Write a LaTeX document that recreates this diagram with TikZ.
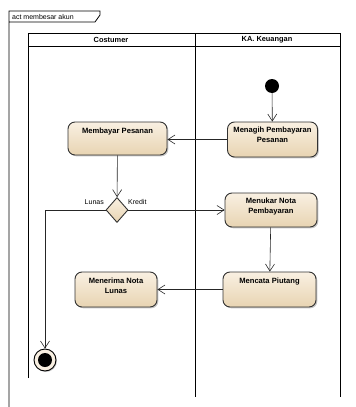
\documentclass[tikz,border=0pt]{standalone}
\usepackage{fontspec}
\setmainfont{Liberation Sans}
\usetikzlibrary{arrows.meta,shapes.geometric,shadows}
\definecolor{acttop}{RGB}{249,240,226}
\definecolor{actbot}{RGB}{232,212,178}
\definecolor{actline}{RGB}{50,50,50}
\tikzset{
  actbox/.style={draw=actline, line width=0.9pt, rounded corners=7pt,
    top color=acttop, bottom color=actbot,
    drop shadow={shadow xshift=1.3pt,shadow yshift=-1.3pt,opacity=0.45},
    inner sep=0pt},
  acttext/.style={anchor=north, align=center, font=\fontsize{7.6}{10}\selectfont\bfseries, inner sep=0pt},
  flow/.style={draw=black!85, line width=0.6pt, -{Straight Barb[length=7pt,width=9pt,line width=0.6pt]}},
  lane/.style={draw=black, line width=0.8pt},
  lanetitle/.style={font=\fontsize{7.4}{9}\selectfont\bfseries, inner sep=0pt},
  guard/.style={font=\fontsize{7}{9}\selectfont, inner sep=0pt},
}
\begin{document}
\begin{tikzpicture}[x=1pt,y=-1pt]
\useasboundingbox (0,0) rectangle (356,407);
% frame
\draw[lane] (9,407) -- (9,11) -- (100,11) -- (100,15) -- (95,22) -- (9,22);
\node[anchor=west, font=\fontsize{7}{8}\selectfont, inner sep=0pt] (title) at (12,16.5) {act membesar akun};
% swimlanes
\draw[lane] (28,378) -- (28,33) -- (340,33) -- (340,397);
\draw[lane] (28,46) -- (340,46);
\draw[lane] (195,33) -- (195,397);
\node[lanetitle] (l1) at (111,39.5) {Costumer};
\node[lanetitle] (l2) at (267,39.5) {KA. Keuangan};
% initial node
\node[circle, fill=black, minimum size=14pt, inner sep=0pt] (init) at (272,86) {};
% activities
\node[actbox, minimum width=90pt, minimum height=35pt] (menagih) at (272.5,139.5) {};
\node[acttext] (menagihT) at ([yshift=-5.5pt]menagih.north) {Menagih Pembayaran\\Pesanan};
\node[actbox, minimum width=99pt, minimum height=33pt] (membayar) at (117.5,138.5) {};
\node[acttext] (membayarT) at ([yshift=-6pt]membayar.north) {Membayar Pesanan};
\node[diamond, draw=actline, line width=0.9pt, top color=acttop, bottom color=actbot,
      minimum width=22pt, minimum height=25pt, inner sep=0pt, aspect=0.9] (dec) at (117,210) {};
\node[guard, anchor=south east] (lunas) at (104,205) {Lunas};
\node[guard, anchor=south west] (kredit) at (128,205) {Kredit};
\node[actbox, minimum width=92pt, minimum height=34pt] (menukar) at (271,210) {};
\node[acttext] (menukarT) at ([yshift=-5.5pt]menukar.north) {Menukar Nota\\Pembayaran};
\node[actbox, minimum width=93pt, minimum height=35pt] (mencata) at (269.5,289.5) {};
\node[acttext] (mencataT) at ([yshift=-6.5pt]mencata.north) {Mencata Piutang};
\node[actbox, minimum width=82pt, minimum height=35pt] (menerima) at (116,289.5) {};
\node[acttext] (menerimaT) at ([yshift=-6.5pt]menerima.north) {Menerima Nota\\Lunas};
% final node
\node[circle, draw=black, line width=0.9pt, fill=acttop, minimum size=22pt, inner sep=0pt,
      drop shadow={shadow xshift=1pt,shadow yshift=-1pt,opacity=0.4}] (final) at (45,360) {};
\node[circle, fill=black, minimum size=14pt, inner sep=0pt] (finalin) at (final) {};
% flows
\draw[flow] (init) -- (menagih);
\draw[flow] (menagih.west) -- (membayar.east |- menagih.west);
\draw[flow] (membayar) -- (dec);
\draw[flow] (dec.east) -- (menukar.west);
\coordinate (turn) at (45,210);
\draw[flow] (dec.west) -- (turn) -- (final);
\draw[flow] (menukar) -- (mencata);
\draw[flow] (mencata.west) -- (menerima.east);
\end{tikzpicture}
\end{document}
